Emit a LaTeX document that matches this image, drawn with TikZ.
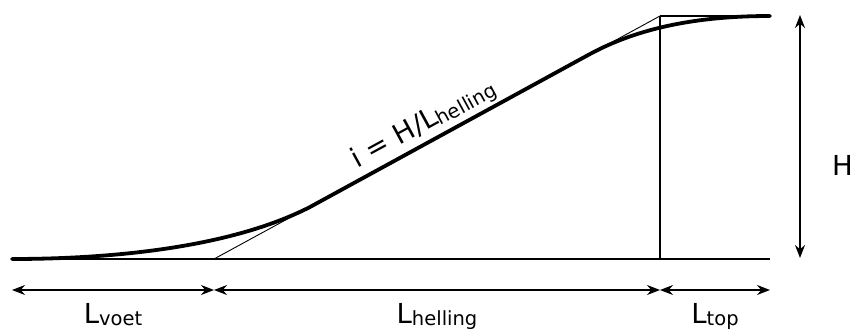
\documentclass[tikz,border=0pt]{standalone}
\usepackage{fontspec}
\setmainfont{DejaVu Sans}
\usetikzlibrary{arrows.meta,calc}
\newcommand\lsub[1]{\raisebox{-0.1em}{\fontsize{19.5}{21}\selectfont #1}}
\tikzset{
  thinline/.style={line width=0.9pt, black},
  baseline/.style={line width=1.4pt, black},
  profile/.style={line width=3.8pt, black, line cap=round},
  dimarrow/.style={line width=1.3pt, black, {Stealth[length=13pt,width=10pt]}-{Stealth[length=13pt,width=10pt]}},
  lbl/.style={font=\fontsize{27.5}{29}\selectfont, inner sep=0pt},
}
\begin{document}
\begin{tikzpicture}[x=1pt,y=-1pt]
\useasboundingbox (0,0) rectangle (853,332);
% key points
\coordinate (p0) at (12,259);
\coordinate (toe) at (214,259);
\coordinate (crest) at (660,16);
\coordinate (crestbase) at (660,259);
\coordinate (topend) at (770,16);
\coordinate (baseend) at (770,259);
% dimension points
\coordinate (d0) at (12,290);
\coordinate (d1) at (214,290);
\coordinate (d2) at (660,290);
\coordinate (d3) at (770,290);
\coordinate (h0) at (800,15);
\coordinate (h1) at (800,258);
% base line and thin geometry
\draw[baseline] (p0) -- (baseend);
\draw[thinline] (toe) -- (crest);
\draw[baseline] (crest) -- (crestbase);
\draw[baseline] (crest) -- (topend);
% thick profile
\draw[profile] (p0) .. controls (110,259) and (230,248) .. (310,207)
  -- (590,54) .. controls (640,27) and (700,16) .. (topend);
% slope label
\node[lbl, rotate=28.6, anchor=south, inner sep=4pt] (slope) at ($(toe)!0.49!(crest)$) {i = H/L\lsub{helling}};
% dimension arrows
\draw[dimarrow] (d0) -- (d1);
\draw[dimarrow] (d1) -- (d2);
\draw[dimarrow] (d2) -- (d3);
\draw[dimarrow] (h0) -- (h1);
% labels
\node[lbl, anchor=base] (lvoet) at ($(d0)!0.5!(d1)+(0,33)$) {L\lsub{voet}};
\node[lbl, anchor=base] (lhel) at ($(d1)!0.5!(d2)+(0,33)$) {L\lsub{helling}};
\node[lbl, anchor=base] (ltop) at ($(d2)!0.5!(d3)+(0,33)$) {L\lsub{top}};
\node[lbl, anchor=west] (hlbl) at (832,165) {H};
\end{tikzpicture}
\end{document}
